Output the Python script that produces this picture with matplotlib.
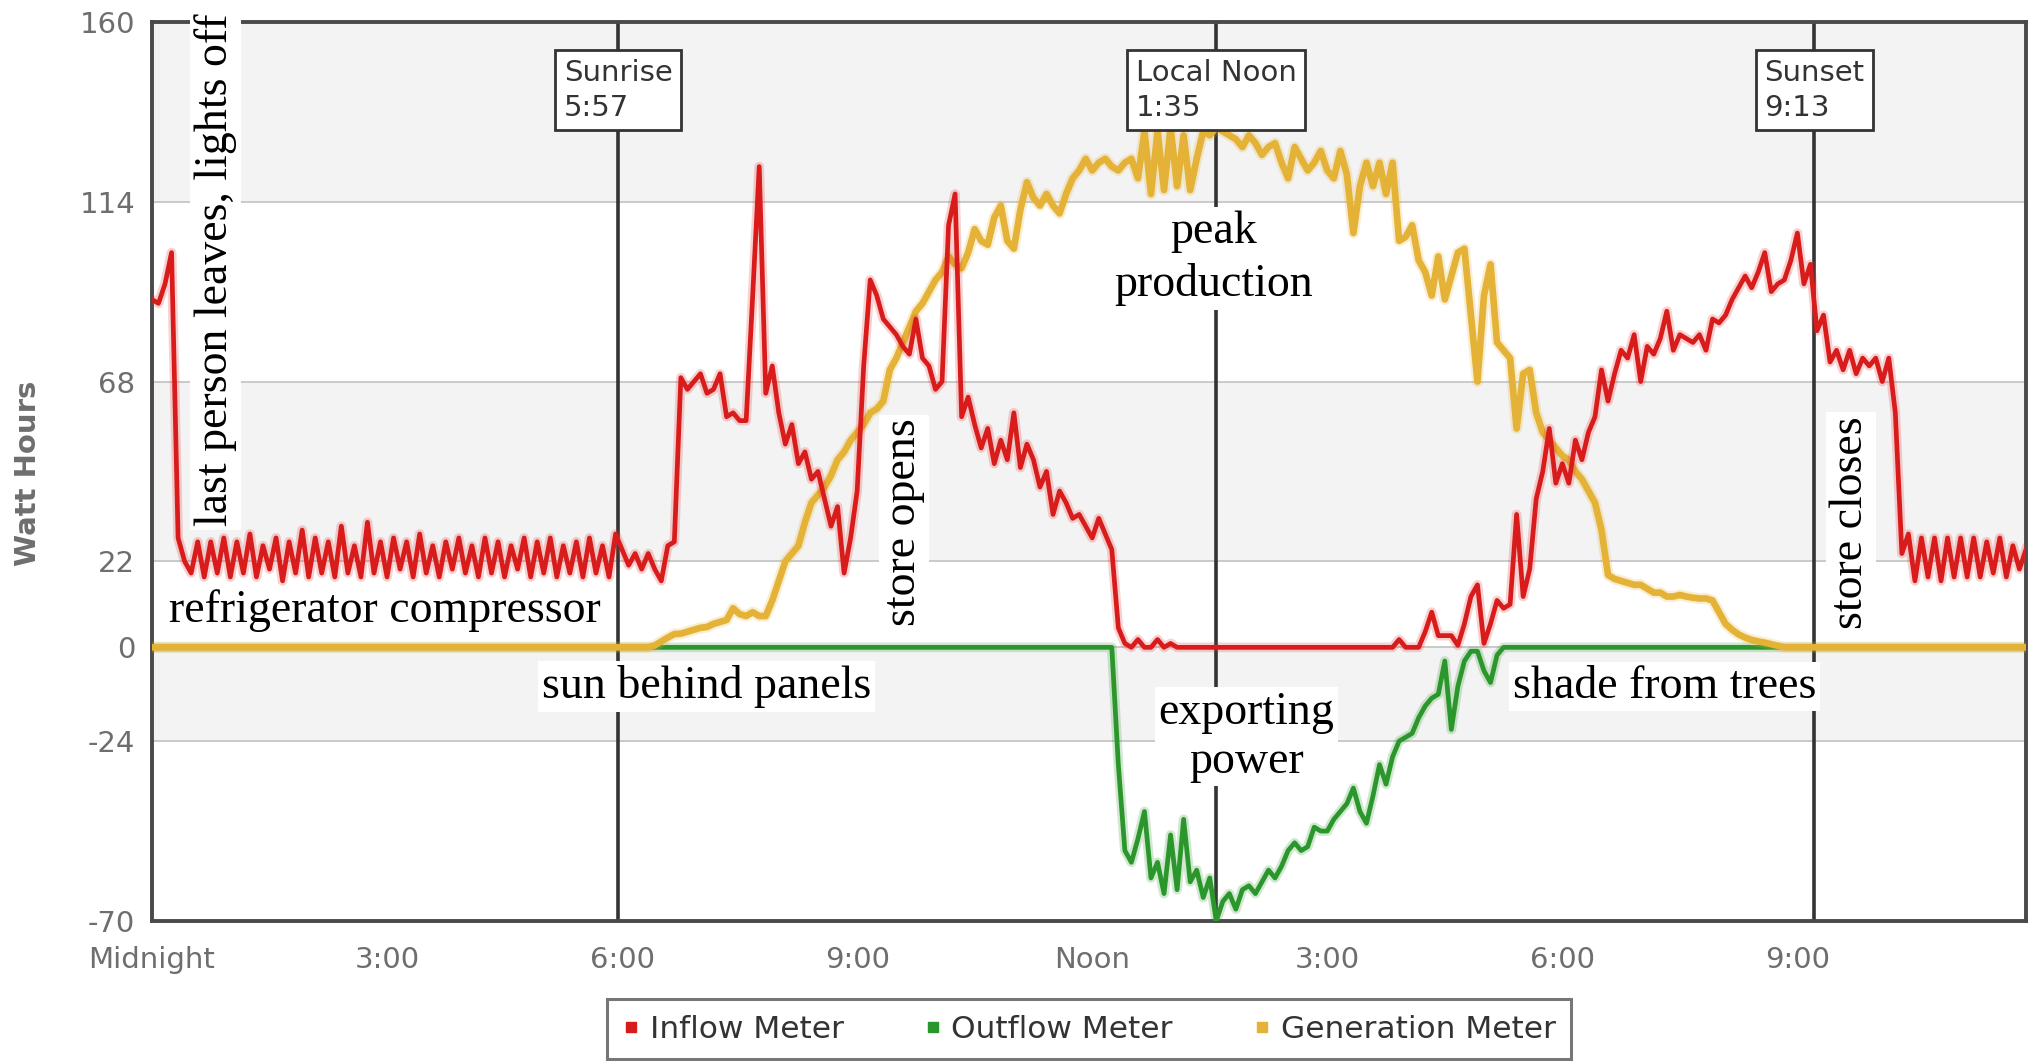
import numpy as np
import matplotlib
matplotlib.use("Agg")
import matplotlib.pyplot as plt
from matplotlib.lines import Line2D
import matplotlib.patheffects as pe

# 5-minute readings over one day (Watt hours), one row per hour
inflow = [
    89, 88, 93, 101, 28, 22, 19, 27, 18, 27, 19, 28,
    18, 27, 19, 29, 18, 26, 20, 28, 17, 27, 19, 30,
    18, 28, 19, 27, 18, 31, 19, 26, 18, 32, 19, 27,
    18, 28, 20, 27, 18, 29, 19, 26, 18, 27, 20, 28,
    19, 26, 18, 28, 19, 27, 18, 26, 20, 28, 18, 27,
    19, 28, 18, 26, 19, 27, 18, 28, 19, 26, 18, 29,
    25, 21, 24, 20, 24, 20, 17, 26, 27, 69, 66, 68,
    70, 65, 66, 70, 59, 60, 58, 58, 90, 123, 65, 72,
    60, 52, 57, 47, 50, 43, 45, 38, 31, 36, 19, 28,
    40, 72, 94, 90, 84, 82, 80, 77, 75, 84, 74, 72,
    66, 68, 108, 116, 59, 64, 57, 51, 56, 47, 53, 48,
    60, 46, 52, 48, 41, 45, 34, 40, 37, 33, 34, 31,
    28, 33, 29, 25, 5, 1, 0, 2, 0, 0, 2, 0,
    1, 0, 0, 0, 0, 0, 0, 0, 0, 0, 0, 0,
    0, 0, 0, 0, 0, 0, 0, 0, 0, 0, 0, 0,
    0, 0, 0, 0, 0, 0, 0, 0, 0, 0, 0, 2,
    0, 0, 0, 4, 9, 3, 3, 3, 0.5, 6, 13, 16,
    1, 6, 12, 10, 11, 34, 13, 20, 38, 45, 56, 42,
    47, 42, 53, 48, 55, 59, 71, 63, 70, 76, 74, 80,
    68, 77, 75, 79, 86, 76, 80, 79, 78, 80, 76, 84,
    83, 85, 89, 92, 95, 92, 96, 101, 91, 93, 94, 99,
    106, 93, 98, 81, 85, 73, 76, 71, 76, 70, 74, 72,
    74, 68, 74, 60, 24, 29, 17, 28, 18, 28, 17, 28,
    18, 28, 18, 28, 18, 27, 19, 28, 18, 26, 20, 25,
]

outflow = [
    0, 0, 0, 0, 0, 0, 0, 0, 0, 0, 0, 0,
    0, 0, 0, 0, 0, 0, 0, 0, 0, 0, 0, 0,
    0, 0, 0, 0, 0, 0, 0, 0, 0, 0, 0, 0,
    0, 0, 0, 0, 0, 0, 0, 0, 0, 0, 0, 0,
    0, 0, 0, 0, 0, 0, 0, 0, 0, 0, 0, 0,
    0, 0, 0, 0, 0, 0, 0, 0, 0, 0, 0, 0,
    0, 0, 0, 0, 0, 0, 0, 0, 0, 0, 0, 0,
    0, 0, 0, 0, 0, 0, 0, 0, 0, 0, 0, 0,
    0, 0, 0, 0, 0, 0, 0, 0, 0, 0, 0, 0,
    0, 0, 0, 0, 0, 0, 0, 0, 0, 0, 0, 0,
    0, 0, 0, 0, 0, 0, 0, 0, 0, 0, 0, 0,
    0, 0, 0, 0, 0, 0, 0, 0, 0, 0, 0, 0,
    0, 0, 0, 0, -30, -52, -55, -49, -42, -59, -55, -63,
    -48, -62, -44, -60, -57, -64, -59, -70, -65, -63, -67, -62,
    -61, -63, -60, -57, -59, -56, -52, -50, -52, -51, -46, -47,
    -47, -44, -42, -40, -36, -42, -45, -38, -30, -35, -28, -24,
    -23, -22, -18, -15, -13, -12, -3.5, -21, -10, -3.5, -1, -1,
    -6, -9, -2, 0, 0, 0, 0, 0, 0, 0, 0, 0,
    0, 0, 0, 0, 0, 0, 0, 0, 0, 0, 0, 0,
    0, 0, 0, 0, 0, 0, 0, 0, 0, 0, 0, 0,
    0, 0, 0, 0, 0, 0, 0, 0, 0, 0, 0, 0,
    0, 0, 0, 0, 0, 0, 0, 0, 0, 0, 0, 0,
    0, 0, 0, 0, 0, 0, 0, 0, 0, 0, 0, 0,
    0, 0, 0, 0, 0, 0, 0, 0, 0, 0, 0, 0,
]

generation = [
    0, 0, 0, 0, 0, 0, 0, 0, 0, 0, 0, 0,
    0, 0, 0, 0, 0, 0, 0, 0, 0, 0, 0, 0,
    0, 0, 0, 0, 0, 0, 0, 0, 0, 0, 0, 0,
    0, 0, 0, 0, 0, 0, 0, 0, 0, 0, 0, 0,
    0, 0, 0, 0, 0, 0, 0, 0, 0, 0, 0, 0,
    0, 0, 0, 0, 0, 0, 0, 0, 0, 0, 0, 0,
    0, 0, 0, 0, 0, 0.5, 1.5, 2.5, 3.4, 3.5, 4, 4.5,
    5, 5.2, 6, 6.5, 7, 10, 8.5, 8, 9, 8, 8, 12,
    17, 22, 24, 26, 32, 37, 39, 41, 44, 48, 50, 53,
    55, 57, 60, 61, 63, 71, 74, 78, 82, 86, 88, 91,
    94, 96, 100, 98, 97, 101, 107, 104, 103, 110, 113, 104,
    102, 112, 119, 115, 113, 116, 113, 111, 116, 120, 122, 125,
    122, 124, 125, 123, 122, 124, 125, 120, 132, 116, 132, 117,
    133, 118, 131, 117, 125, 132, 131, 133, 132, 131, 130, 128,
    131, 129, 126, 128, 129, 124, 120, 128, 125, 122, 124, 127,
    122, 120, 127, 121, 106, 118, 124, 118, 124, 116, 124, 104,
    105, 108, 99, 96, 90, 100, 89, 95, 101, 102, 85, 68,
    90, 98, 78, 76, 74, 56, 70, 71, 60, 55, 53, 51,
    49, 48, 45, 43, 40, 37, 30, 18.5, 17.5, 17, 16.5, 16,
    16, 15, 14, 14, 13, 13, 13.4, 13, 12.7, 12.5, 12.5, 12,
    9, 6, 4.5, 3.3, 2.5, 1.9, 1.5, 1.2, 0.8, 0.4, 0, 0,
    0, 0, 0, 0, 0, 0, 0, 0, 0, 0, 0, 0,
    0, 0, 0, 0, 0, 0, 0, 0, 0, 0, 0, 0,
    0, 0, 0, 0, 0, 0, 0, 0, 0, 0, 0, 0,
]

y_ticks = [-70, -24, 0, 22, 68, 114, 160]
x_ticks = [0, 3, 6, 9, 12, 15, 18, 21]
x_labels = ["Midnight", "3:00", "6:00", "9:00", "Noon", "3:00", "6:00", "9:00"]

# sun events: (hour of day, label)
events = [(5 + 57 / 60, "Sunrise\n5:57"),
          (13 + 35 / 60, "Local Noon\n1:35"),
          (21 + 13 / 60, "Sunset\n9:13")]

series_names = ["Inflow Meter", "Outflow Meter", "Generation Meter"]
series_colors = ["#d81c1c", "#2b962b", "#e4b236"]

hours = np.arange(len(inflow)) / 12.0

fig = plt.figure(figsize=(20.4, 10.61), dpi=100)
fig.patch.set_facecolor("white")
ax = fig.add_axes([0.0745, 0.132, 0.9186, 0.8473])
ax.set_xlim(0, hours[-1])
ax.set_ylim(y_ticks[0], y_ticks[-1])

# alternating background bands between tick values
for k in range(len(y_ticks) - 1):
    fc = "#f3f3f3" if k % 2 == 1 else "white"
    ax.axhspan(y_ticks[k], y_ticks[k + 1], color=fc, zorder=0, lw=0)
for t in y_ticks[1:-1]:
    ax.axhline(t, color="#c6c6c6", lw=1.3, zorder=0.5)

# sunrise / noon / sunset markers
for xh, lab in events:
    ax.axvline(xh, color="#333333", lw=2.6, zorder=1)
    ax.text(xh, 142.5, lab, ha="center", va="center", multialignment="left",
            fontsize=21, family="DejaVu Sans", color="#333333", linespacing=1.3,
            zorder=4,
            bbox=dict(boxstyle="square,pad=0.3", fc="white", ec="#333333", lw=2))

# meter readings
ax.plot(hours, outflow, color=series_colors[1], lw=3.4, zorder=3.0,
        solid_joinstyle="round",
        path_effects=[pe.Stroke(linewidth=7, foreground=series_colors[1], alpha=0.22), pe.Normal()])
ax.plot(hours, generation, color=series_colors[2], lw=4.8, zorder=3.1,
        solid_joinstyle="round",
        path_effects=[pe.Stroke(linewidth=8, foreground=series_colors[2], alpha=0.22), pe.Normal()])
ax.plot(hours, inflow, color=series_colors[0], lw=3.4, zorder=3.2,
        solid_joinstyle="round",
        path_effects=[pe.Stroke(linewidth=7, foreground="#e83030", alpha=0.22), pe.Normal()])

# annotations
note_style = dict(family=["Liberation Serif", "DejaVu Serif"], fontsize=33, color="black",
                  zorder=2.6,
                  bbox=dict(boxstyle="square,pad=0.08", fc="white", ec="none"))
ax.text(0.81, 31, "last person leaves, lights off", rotation=90,
        ha="center", va="bottom", **note_style)
ax.text(2.97, 9.5, "refrigerator compressor", ha="center", va="center", **note_style)
ax.text(7.08, -10, "sun behind panels", ha="center", va="center", **note_style)
ax.text(9.6, 32, "store opens", rotation=90, ha="center", va="center", **note_style)
ax.text(13.55, 99.5, "peak\nproduction", ha="center", va="center",
        linespacing=1.32, **note_style)
ax.text(13.97, -22.9, "exporting\npower", ha="center", va="center",
        linespacing=1.2, **note_style)
ax.text(19.3, -10, "shade from trees", ha="center", va="center", **note_style)
ax.text(21.68, 32, "store closes", rotation=90, ha="center", va="center", **note_style)

# axes styling
for s in ax.spines.values():
    s.set_color("#4a4a4a")
    s.set_linewidth(2.8)
    s.set_zorder(2.5)
ax.set_yticks(y_ticks)
ax.set_yticklabels([str(v) for v in y_ticks])
ax.set_xticks(x_ticks)
ax.set_xticklabels(x_labels)
ax.tick_params(axis="both", length=0, labelsize=21, labelcolor="#6e6e6e")
ax.tick_params(axis="y", pad=12)
ax.tick_params(axis="x", pad=18)
for lbl in ax.get_xticklabels() + ax.get_yticklabels():
    lbl.set_family("DejaVu Sans")

fig.text(0.0135, 0.5536, "Watt Hours", rotation=90, ha="center", va="center",
         fontsize=21, fontweight="bold", color="#6e6e6e", family="DejaVu Sans")

handles = [Line2D([], [], marker="s", linestyle="none", markersize=6.5,
                  markerfacecolor=c, markeredgecolor=c) for c in series_colors]
leg = fig.legend(handles, series_names, loc="lower center",
                 bbox_to_anchor=(0.534, 0.0), ncol=3, frameon=True,
                 fancybox=False, edgecolor="#555555",
                 handlelength=0.5, handletextpad=0.35, columnspacing=2.6,
                 borderpad=0.5, borderaxespad=0.05,
                 prop={"family": "DejaVu Sans", "size": 22.5})
leg.get_frame().set_linewidth(2.2)
for t in leg.get_texts():
    t.set_color("#333333")

fig.savefig("out.png", dpi=100, facecolor="white")
